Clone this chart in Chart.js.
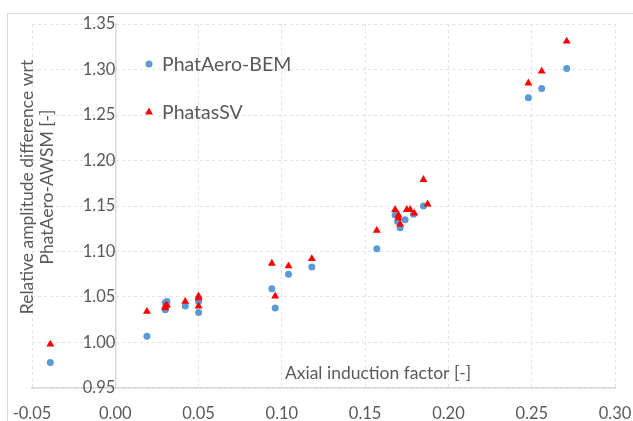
<!DOCTYPE html>
<html>
<head>
<meta charset="utf-8">
<script src="https://cdn.jsdelivr.net/npm/chart.js@4.4.1/dist/chart.umd.min.js"></script>
<style>
  html, body { margin: 0; padding: 0; background: #fff; }
  #wrap { position: relative; width: 633px; height: 421px; }
</style>
</head>
<body>
<div id="wrap"><canvas id="chart"></canvas></div>
<script>
// data
const seriesNames = ['PhatAero-BEM', 'PhatasSV'];

const bemX = [-0.039, 0.019, 0.030, 0.031, 0.030, 0.042, 0.050, 0.050, 0.094, 0.096, 0.104, 0.118,
              0.157, 0.168, 0.1695, 0.171, 0.174, 0.179, 0.185, 0.248, 0.256, 0.271];
const bemY = [0.978, 1.007, 1.044, 1.045, 1.036, 1.040, 1.045, 1.033, 1.059, 1.038, 1.075, 1.083,
              1.103, 1.140, 1.133, 1.126, 1.135, 1.141, 1.150, 1.269, 1.279, 1.301];

const svX = [-0.039, 0.019, 0.030, 0.031, 0.030, 0.042, 0.050, 0.050, 0.050, 0.094, 0.096, 0.104, 0.118,
             0.157, 0.168, 0.170, 0.170, 0.171, 0.175, 0.177, 0.1795, 0.185, 0.1875, 0.248, 0.256, 0.271];
const svY = [0.998, 1.034, 1.038, 1.041, 1.040, 1.045, 1.051, 1.049, 1.040, 1.087, 1.051, 1.084, 1.092,
             1.123, 1.146, 1.140, 1.137, 1.130, 1.146, 1.146, 1.142, 1.179, 1.152, 1.285, 1.298, 1.331];

const xTicks = [-0.05, 0.00, 0.05, 0.10, 0.15, 0.20, 0.25, 0.30];
const yTicks = [0.95, 1.00, 1.05, 1.10, 1.15, 1.20, 1.25, 1.30, 1.35];

const xTitle = 'Axial induction factor [-]';
const yTitle = ['Relative amplitude difference wrt', 'PhatAero-AWSM [-]'];

const blue = '#5b9bd5';
const red = '#ff0000';
const textColor = '#595959';
const fontFamily = 'Lato, "Open Sans", sans-serif';

function toPoints(xs, ys) {
    return xs.map((x, i) => ({ x: x, y: ys[i] }));
}

// frame, legend and axis titles
const decorations = {
    id: 'decorations',
    beforeDraw(chart) {
        const ctx = chart.ctx;
        ctx.save();
        ctx.fillStyle = '#fff';
        ctx.fillRect(0, 0, chart.width, chart.height);
        ctx.strokeStyle = '#d9d9d9';
        ctx.lineWidth = 1;
        ctx.strokeRect(7.5, 13.5, chart.width, chart.height);
        ctx.restore();
    },
    afterDraw(chart) {
        const ctx = chart.ctx;
        ctx.save();

        // legend
        ctx.font = '19.5px ' + fontFamily;
        ctx.fillStyle = textColor;
        ctx.textBaseline = 'middle';
        ctx.textAlign = 'left';
        const rows = [64, 112];
        chart.data.datasets.forEach((ds, i) => {
            const y = rows[i];
            ctx.fillStyle = ds.backgroundColor;
            ctx.beginPath();
            if (ds.pointStyle === 'triangle') {
                ctx.moveTo(149, y - 4.5);
                ctx.lineTo(153, y + 2.5);
                ctx.lineTo(145, y + 2.5);
                ctx.closePath();
            } else {
                ctx.arc(149, y, 3.5, 0, Math.PI * 2);
            }
            ctx.fill();
            ctx.fillStyle = textColor;
            ctx.fillText(ds.label, 162, y + 1);
        });

        // x title, inside the plot
        ctx.font = '17.5px ' + fontFamily;
        ctx.textAlign = 'center';
        ctx.fillText(xTitle, 378, 373);

        // y title, two rotated lines
        ctx.translate(0, 187);
        ctx.rotate(-Math.PI / 2);
        ctx.fillText(yTitle[0], 0, 27);
        ctx.fillText(yTitle[1], 0, 47);
        ctx.restore();
    }
};

const ctx = document.getElementById('chart').getContext('2d');

new Chart(ctx, {
    type: 'scatter',
    data: {
        datasets: [{
            label: seriesNames[0],
            data: toPoints(bemX, bemY),
            pointStyle: 'circle',
            pointRadius: 3.5,
            pointHoverRadius: 3.5,
            backgroundColor: blue,
            borderWidth: 0,
            order: 1
        }, {
            label: seriesNames[1],
            data: toPoints(svX, svY),
            pointStyle: 'triangle',
            pointRadius: 4.6,
            pointHoverRadius: 4.6,
            backgroundColor: red,
            borderWidth: 0,
            order: 0
        }]
    },
    options: {
        responsive: true,
        maintainAspectRatio: false,
        animation: false,
        layout: { padding: { left: 32, right: 18, top: 24, bottom: 0 } },
        plugins: {
            legend: { display: false },
            tooltip: { enabled: false }
        },
        scales: {
            x: {
                type: 'linear',
                position: 'bottom',
                min: xTicks[0],
                max: xTicks[xTicks.length - 1],
                afterBuildTicks(scale) {
                    scale.ticks = xTicks.map(v => ({ value: v }));
                },
                afterFit(scale) {
                    scale.height = 33;
                    scale.paddingLeft = 0;
                    scale.paddingRight = 0;
                },
                ticks: {
                    callback: v => v.toFixed(2),
                    color: textColor,
                    font: { family: fontFamily, size: 16.5 },
                    padding: 16,
                    maxRotation: 0
                },
                grid: { color: '#e3e3e3', drawTicks: false, lineWidth: 1 },
                border: { color: '#d9d9d9', width: 1.5, dash: [3, 3] }
            },
            y: {
                type: 'linear',
                position: { x: 0 },
                min: yTicks[0],
                max: yTicks[yTicks.length - 1],
                afterBuildTicks(scale) {
                    scale.ticks = yTicks.map(v => ({ value: v }));
                },
                afterFit(scale) {
                    scale.paddingTop = 0;
                    scale.paddingBottom = 0;
                },
                ticks: {
                    callback: v => v.toFixed(2),
                    color: textColor,
                    font: { family: fontFamily, size: 16.5 },
                    padding: 18
                },
                grid: { color: '#e3e3e3', drawTicks: false, lineWidth: 1 },
                border: { color: '#d9d9d9', width: 1.5, dash: [3, 3] }
            }
        }
    },
    plugins: [decorations]
});
</script>
</body>
</html>
